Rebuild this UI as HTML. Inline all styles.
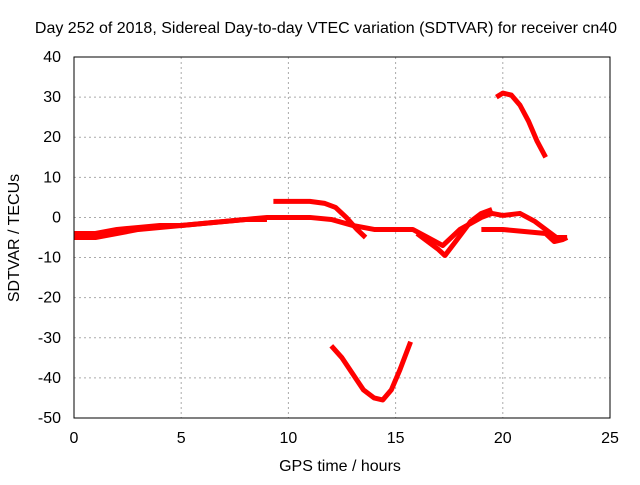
<!DOCTYPE html>
<html><head><meta charset="utf-8"><style>
body{margin:0;background:#fff;}
svg text{font-family:"Liberation Sans",sans-serif;font-size:16px;fill:#000;}
</style></head><body>
<svg id="chart" width="640" height="480">
<text x="326" y="33" text-anchor="middle">Day 252 of 2018, Sidereal Day-to-day VTEC variation (SDTVAR) for receiver cn40</text>
<text x="340" y="471" text-anchor="middle">GPS time / hours</text>
<text transform="translate(19,238) rotate(-90)" text-anchor="middle">SDTVAR / TECUs</text>
<g id="grid"></g><g id="series"></g>
<rect x="74" y="57" width="536" height="361" fill="none" stroke="#000"/>
</svg>
<script>
const xTicks=[0,5,10,15,20,25];
const yTicks=[40,30,20,10,0,-10,-20,-30,-40,-50];
const seriesMainX=[0,1,2,3,4,5,6,7,8,9,10,11,12,13,14,15,15.8,16.5,17.2,18,19,19.5,20,20.8,21.5,22,22.5,23];
const seriesMainY=[-4,-4,-3,-2.5,-2,-2,-1.5,-1,-0.5,0,0,0,-0.5,-2,-3,-3,-3,-5,-7,-3,0,1,0.5,1,-1,-3,-5,-5];
const seriesLowX=[0,1,2,3,4,5,6,7,8,9];
const seriesLowY=[-5,-5,-4,-3,-2.5,-2,-1.5,-1,-0.5,-0.5];
const seriesHumpX=[9.3,10,11,11.7,12.2,12.7,13.2,13.6];
const seriesHumpY=[4,4,4,3.5,2.5,0,-3,-5];
const seriesVX=[12,12.5,13,13.5,14,14.4,14.8,15.2,15.7];
const seriesVY=[-32,-35,-39,-43,-45,-45.5,-43,-38,-31];
const seriesUpX=[19.7,20,20.4,20.8,21.2,21.6,22];
const seriesUpY=[30,31,30.5,28,24,19,15];
const seriesDipX=[16,16.5,17,17.3,17.8,18.5,19,19.5];
const seriesDipY=[-4,-6,-8,-9.5,-6,-1,1,2];
const seriesTailX=[19,20,21,22,22.4,22.8,23];
const seriesTailY=[-3,-3,-3.5,-4,-6,-5.5,-5];
const sx=v=>74+v*536/25, sy=v=>57+(40-v)*361/90;
const NS='http://www.w3.org/2000/svg', svg=document.getElementById('chart');
const grid=document.getElementById('grid'), ser=document.getElementById('series');
xTicks.forEach(t=>{
 const l=document.createElementNS(NS,'line');
 
 
 l.setAttribute('x1',sx(t));l.setAttribute('x2',sx(t));l.setAttribute('y1',57);l.setAttribute('y2',418);
 l.setAttribute('stroke','#aaa');l.setAttribute('stroke-dasharray','2,3');grid.appendChild(l);
 const tx=document.createElementNS(NS,'text');
 
 
 tx.setAttribute('x',sx(t));tx.setAttribute('y',443);tx.setAttribute('text-anchor','middle');tx.textContent=t;svg.appendChild(tx);
});
yTicks.forEach(t=>{
 const l=document.createElementNS(NS,'line');
 
 
 l.setAttribute('x1',74);l.setAttribute('x2',610);l.setAttribute('y1',sy(t));l.setAttribute('y2',sy(t));
 l.setAttribute('stroke','#aaa');l.setAttribute('stroke-dasharray','2,3');grid.appendChild(l);
 const tx=document.createElementNS(NS,'text');
 
 
 tx.setAttribute('x',61);tx.setAttribute('y',sy(t)+5);tx.setAttribute('text-anchor','end');tx.textContent=t;svg.appendChild(tx);
});
function draw(xs,ys,name){
 const p=document.createElementNS(NS,'polyline');
 
 
 p.setAttribute('points',xs.map((x,i)=>sx(x)+','+sy(ys[i])).join(' '));
 p.setAttribute('fill','none');p.setAttribute('stroke','#f00');p.setAttribute('stroke-width','5');
 p.setAttribute('stroke-linejoin','round');ser.appendChild(p);
}
draw(seriesMainX,seriesMainY,'series-main');
draw(seriesLowX,seriesLowY,'series-low');
draw(seriesHumpX,seriesHumpY,'series-hump');
draw(seriesVX,seriesVY,'series-v');
draw(seriesUpX,seriesUpY,'series-upper');
draw(seriesDipX,seriesDipY,'series-dip');
draw(seriesTailX,seriesTailY,'series-tail');
</script>
</body></html>
